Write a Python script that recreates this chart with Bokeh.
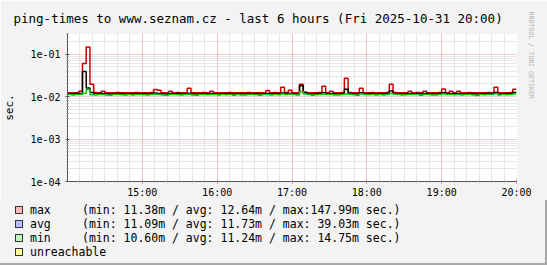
import math
from bokeh.plotting import figure
from bokeh.layouts import column
from bokeh.models import (FixedTicker, CustomJSTickFormatter, Range1d, Title, Div)
from bokeh.embed import file_html
from bokeh.resources import INLINE

# ---------------- data ----------------
TITLE = "ping-times to www.seznam.cz - last 6 hours (Fri 2025-10-31 20:00)"
STEP_MIN = 3                     # minutes per sample, starting 14:00
HOUR_TICKS = [60, 120, 180, 240, 300, 360]
HOUR_LABELS = ["15:00", "16:00", "17:00", "18:00", "19:00", "20:00"]
Y_TICKS = [1e-4, 1e-3, 1e-2, 1e-1]

# ping times in milliseconds, one value per 3 minutes (14:00 .. 20:00)
max_ms = [
    12.3, 12.4, 12.4, 13.4, 60.0, 148.0, 19.5, 12.5, 12.4, 13.4, 12.4, 12.3, 12.4, 12.5, 12.4, 12.3, 12.4, 12.4, 12.5, 12.4,
    12.4, 12.3, 12.5, 14.8, 14.2, 12.4, 12.3, 13.4, 12.4, 12.5, 12.3, 12.4, 15.8, 12.4, 12.3, 12.4, 12.5, 12.4, 13.4, 12.4,
    12.3, 12.4, 12.4, 12.5, 12.3, 12.4, 12.4, 12.3, 12.5, 12.4, 12.4, 12.3, 12.4, 14.0, 12.4, 12.5, 12.4, 16.6, 12.6, 14.2,
    12.4, 12.3, 19.5, 12.8, 12.4, 12.3, 12.4, 12.5, 17.5, 12.4, 13.4, 12.4, 12.3, 12.5, 27.0, 12.6, 12.4, 12.3, 15.8, 12.4,
    12.4, 12.5, 12.3, 12.4, 12.4, 12.5, 19.5, 12.6, 12.4, 12.3, 12.4, 13.4, 12.4, 12.5, 12.3, 13.4, 12.4, 12.4, 12.3, 12.5,
    15.2, 12.4, 13.4, 12.4, 13.4, 12.3, 12.4, 12.5, 12.4, 12.3, 12.4, 12.4, 12.5, 12.4, 16.6, 12.3, 12.4, 12.4, 12.5, 15.0,
]
avg_ms = [
    11.7, 11.7, 11.8, 11.9, 39.0, 16.0, 12.5, 11.8, 11.7, 11.9, 11.7, 11.6, 11.7, 11.8, 11.7, 11.6, 11.7, 11.7, 11.8, 11.7,
    11.7, 11.6, 11.8, 12.2, 11.9, 11.7, 11.6, 11.9, 11.7, 11.8, 11.6, 11.7, 12.0, 11.7, 11.6, 11.7, 11.8, 11.7, 11.9, 11.7,
    11.6, 11.7, 11.7, 11.8, 11.6, 11.7, 11.7, 11.6, 11.8, 11.7, 11.7, 11.6, 11.7, 11.9, 11.7, 11.8, 11.7, 12.2, 11.9, 12.0,
    11.7, 11.6, 18.0, 12.3, 11.7, 11.6, 11.7, 11.8, 12.4, 11.7, 11.9, 11.7, 11.6, 11.8, 14.9, 11.9, 11.7, 11.6, 12.3, 11.7,
    11.7, 11.8, 11.6, 11.7, 11.7, 11.8, 13.5, 11.9, 11.7, 11.6, 11.7, 11.9, 11.7, 11.8, 11.6, 11.9, 11.7, 11.7, 11.6, 11.8,
    12.4, 11.7, 11.9, 11.7, 11.9, 11.6, 11.7, 11.8, 11.7, 11.6, 11.7, 11.7, 11.8, 11.7, 12.6, 11.6, 11.7, 11.7, 11.8, 12.5,
]
min_ms = [
    11.2, 11.0, 11.3, 11.2, 12.0, 14.75, 11.1, 10.9, 11.2, 11.3, 11.0, 10.8, 11.2, 11.3, 11.1, 10.9, 11.2, 11.0, 11.3, 11.2,
    11.1, 10.9, 11.3, 11.4, 11.2, 11.0, 10.8, 11.3, 11.2, 11.1, 10.9, 11.2, 11.4, 11.0, 10.8, 11.2, 11.3, 11.1, 11.3, 11.2,
    10.9, 11.2, 11.1, 11.3, 10.8, 11.2, 11.0, 10.9, 11.3, 11.2, 11.1, 10.8, 11.2, 11.3, 11.0, 11.2, 11.1, 11.6, 11.3, 11.4,
    11.2, 10.9, 13.0, 11.5, 11.2, 10.8, 11.1, 11.3, 11.6, 11.2, 11.3, 11.0, 10.9, 11.2, 11.5, 11.4, 11.1, 10.8, 11.5, 11.2,
    11.1, 11.3, 10.9, 11.2, 11.0, 11.2, 11.8, 11.4, 11.2, 10.9, 11.1, 11.3, 11.2, 11.3, 10.8, 11.3, 11.2, 11.0, 10.9, 11.3,
    11.6, 11.2, 11.3, 11.1, 11.3, 10.9, 11.2, 11.3, 11.0, 10.6, 11.2, 11.1, 11.3, 11.2, 11.7, 10.9, 11.2, 11.1, 11.3, 11.6,
]

LEGEND_NAMES = ["max", "avg", "min", "unreachable"]
LEGEND_STATS = [
    "(min: 11.38m / avg: 12.64m / max:147.99m sec.)",
    "(min: 11.09m / avg: 11.73m / max: 39.03m sec.)",
    "(min: 10.60m / avg: 11.24m / max: 14.75m sec.)",
    "",
]
LEGEND_FILLS = ["#FFBBBB", "#BBBBFF", "#BBFFBB", "#FFFF99"]
LINE_COLORS = ["#CC0000", "#000000", "#00CC00"]

# ---------------- layout constants ----------------
W = 547
H_MAIN, H_LEG = 200, 65
FRAME_L, FRAME_T, FRAME_R, FRAME_B = 66, 33, 516, 183
MONO = "DejaVu Sans Mono"
BG = "#F3F3F3"
EDGE = "#A8A8A8"

# ---------------- main chart ----------------
p = figure(width=W, height=H_MAIN, output_backend="svg", toolbar_location=None,
           y_axis_type="log",
           x_range=Range1d(0, 360), y_range=Range1d(1e-4, 0.3076),
           min_border_left=FRAME_L, min_border_right=W - FRAME_R,
           min_border_top=FRAME_T, min_border_bottom=H_MAIN - FRAME_B)
p.background_fill_color = "#FFFFFF"
p.border_fill_color = BG
p.outline_line_color = None

p.title.text = TITLE
p.title.text_font = MONO
p.title.text_font_size = "12.5px"
p.title.text_font_style = "normal"
p.title.text_color = "#000000"
p.title.align = "left"
p.title.offset = 12 - FRAME_L
p.title.standoff = 16

p.add_layout(Title(text="RRDTOOL / TOBI OETIKER", text_font=MONO, text_font_size="6.6px",
                   text_font_style="normal", text_color="#B0B0B0", align="left",
                   vertical_align="top", offset=-22, standoff=17), "right")

# axes
xa = p.xaxis[0]
xa.ticker = FixedTicker(ticks=HOUR_TICKS, minor_ticks=list(range(10, 360, 10)))
xa.major_label_overrides = {t: l for t, l in zip(HOUR_TICKS, HOUR_LABELS)}
ya = p.yaxis[0]
ya.ticker = FixedTicker(ticks=Y_TICKS,
                        minor_ticks=[m * 10.0 ** e for e in range(-4, 0) for m in range(2, 10)])
ya.formatter = CustomJSTickFormatter(code="""
const e = Math.round(Math.log10(tick));
return "1e" + (e < 0 ? "-" : "+") + String(Math.abs(e)).padStart(2, "0");
""")
for ax in (xa, ya):
    ax.axis_line_color = "#555555"
    ax.axis_line_width = 1
    ax.major_tick_line_color = "#E07070"
    ax.minor_tick_line_color = "#999999"
    ax.major_tick_in = 2
    ax.major_tick_out = 2
    ax.minor_tick_in = 1
    ax.minor_tick_out = 1
    ax.major_label_text_font = MONO
    ax.major_label_text_font_size = "10px"
    ax.major_label_text_color = "#000000"
xa.major_label_standoff = 3
ya.major_label_standoff = 5
ya.major_tick_line_color = "#555555"
ya.axis_label = "sec."
ya.axis_label_text_font = MONO
ya.axis_label_text_font_size = "11px"
ya.axis_label_text_font_style = "normal"
ya.axis_label_text_color = "#000000"
ya.axis_label_standoff = 11

for g in (p.xgrid[0], p.ygrid[0]):
    g.grid_line_color = "#E9A3A3"
    g.grid_line_dash = "1 1"
    g.grid_line_width = 1
    g.minor_grid_line_color = "#CFCFCF"
    g.minor_grid_line_dash = "1 1"
    g.minor_grid_line_width = 1
p.xgrid[0].ticker = xa.ticker
p.ygrid[0].ticker = ya.ticker

# data lines (step)
xs = [i * STEP_MIN for i in range(len(max_ms) + 1)]
for series, color in zip([max_ms, avg_ms, min_ms], LINE_COLORS):
    ys = [v / 1000.0 for v in series] + [series[-1] / 1000.0]
    p.step(xs, ys, mode="after", line_color=color, line_width=1.5)

# ---------------- legend strip (HTML) ----------------
ROW_Y = [10, 24.3, 38.3, 52]          # row centres inside the strip
parts = [f'<div style="position:relative;width:{W}px;height:{H_LEG}px;background:{BG};'
         f"font-family:'{MONO}';font-size:11.5px;color:#000;overflow:hidden;\">"]
for name, stats, fill, ry in zip(LEGEND_NAMES, LEGEND_STATS, LEGEND_FILLS, ROW_Y):
    parts.append(f'<div style="position:absolute;left:15px;top:{ry - 4.5}px;width:8px;height:8px;'
                 f'background:{fill};border:1px solid #333;"></div>')
    parts.append(f'<span style="position:absolute;left:30px;top:{ry - 7}px;line-height:14px;'
                 f'white-space:pre;">{name}</span>')
    if stats:
        parts.append(f'<span style="position:absolute;left:82px;top:{ry - 7}px;line-height:14px;'
                     f'white-space:pre;">{stats}</span>')
parts.append(f'<div style="position:absolute;left:0;bottom:0;width:{W}px;height:2px;background:{EDGE};"></div>')
parts.append(f'<div style="position:absolute;right:0;top:0;width:2px;height:{H_LEG}px;background:{EDGE};"></div>')
parts.append("</div>")
legend_div = Div(text="".join(parts), width=W, height=H_LEG,
                 styles={"margin": "0", "padding": "0"})

layout = column(p, legend_div, spacing=0)
open("out.html", "w").write(file_html(layout, INLINE))
